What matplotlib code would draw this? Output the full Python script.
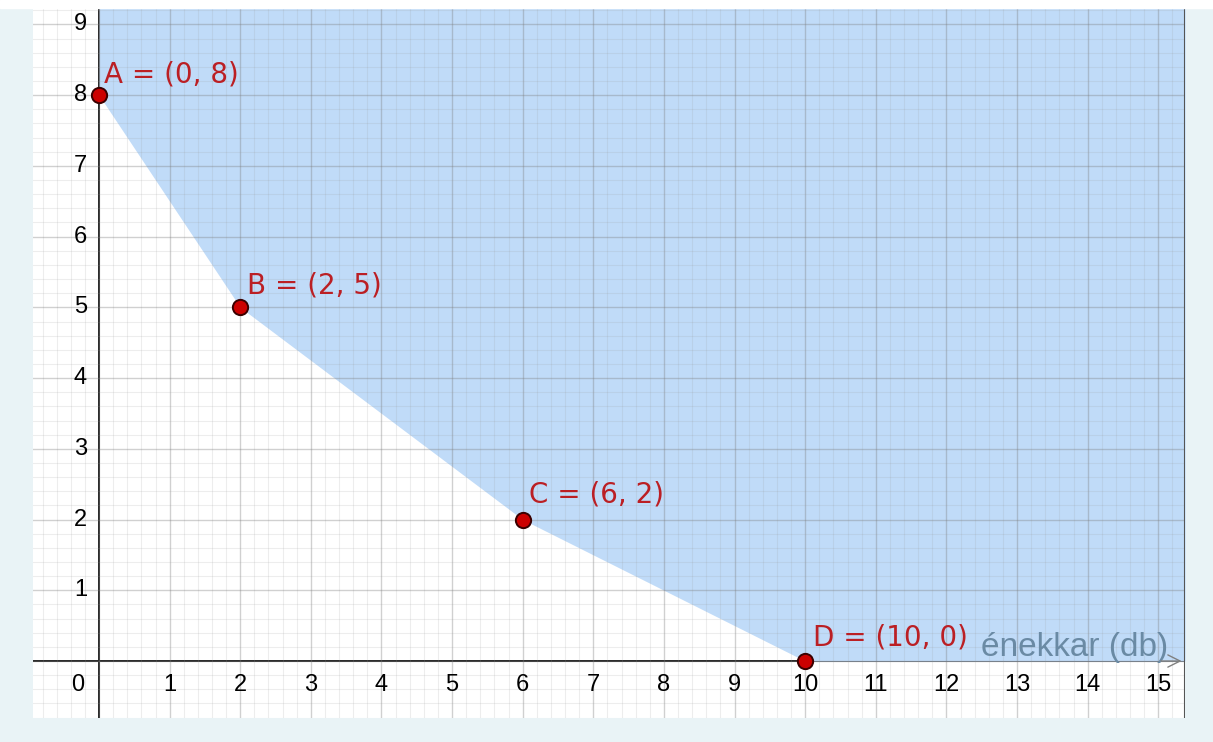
import numpy as np
import matplotlib.pyplot as plt
from matplotlib.patches import Rectangle

plt.rcParams['font.family'] = ['Liberation Sans', 'DejaVu Sans']

# Points of the boundary
names = ['A', 'B', 'C', 'D']
px = [0, 2, 6, 10]
py = [8, 5, 2, 0]

x_ticks = list(range(1, 16))
y_ticks = list(range(1, 10))
x_label = 'énekkar (db)'

# label offsets in pixels (dx, dy of the text baseline)
offsets = [(5, 13), (7, 14), (6, 17), (8, 16)]

xmin, xmax = -0.935, 15.38
ymin, ymax = -0.806, 9.23

fig = plt.figure(figsize=(12.13, 7.42), dpi=100, facecolor='#e9f3f6')
fig.patches.append(Rectangle((0, 0.989), 1, 0.011, transform=fig.transFigure,
                             color='white', zorder=0))
ax = fig.add_axes([0.0272, 0.0323, 0.9498, 0.9567])
ax.set_facecolor('white')
ax.set_xlim(xmin, xmax)
ax.set_ylim(ymin, ymax)

# grid
ax.set_xticks(np.arange(-0.8, 15.4, 0.2), minor=True)
ax.set_yticks(np.arange(-0.8, 9.3, 0.2), minor=True)
ax.set_xticks(range(0, 16))
ax.set_yticks(range(0, 10))
ax.grid(which='minor', color='#9a9a9a', alpha=0.17, lw=0.8, zorder=3)
ax.grid(which='major', color='#7a7a7a', alpha=0.35, lw=1.0, zorder=3)
ax.set_axisbelow(False)
ax.tick_params(which='both', length=0, labelbottom=False, labelleft=False)
for s in ['top', 'right', 'left', 'bottom']:
    ax.spines[s].set_visible(False)
ax.plot([xmax, xmax], [ymin, ymax], color='#555555', lw=1.5, zorder=6)

# axes
ax.axhline(0, color='#222222', lw=1.4, zorder=2)
ax.axvline(0, color='#222222', lw=1.4, zorder=2)

# feasible region
fx = px + [xmax]
fy = py + [0]
ax.fill_between(fx, fy, ymax, color='#c0dbf8', lw=0, zorder=2.5)

# tick labels
for t in x_ticks:
    ax.text(t, -0.34, str(t), ha='center', va='center', fontsize=17, color='#000000')
for t in y_ticks:
    ax.text(-0.17, t, str(t), ha='right', va='center', fontsize=17, color='#000000')
ax.text(-0.3, -0.34, '0', ha='center', va='center', fontsize=17, color='#000000')

# axis label + arrow
ax.text(15.14, 0.07, x_label, ha='right', va='baseline', fontsize=24, color='#6a8aa4', zorder=7)
ax.annotate('', xy=(15.37, 0), xytext=(15.0, 0),
            arrowprops=dict(arrowstyle='->', color='#808080', lw=1.0,
                            mutation_scale=22), zorder=7)

# points
ax.plot(px, py, 'o', ms=11, mfc='#cc0000', mec='#3a0000', mew=1.4, zorder=8, clip_on=False)
for n, x, y, (dx, dy) in zip(names, px, py, offsets):
    ax.annotate(f'{n} = ({x}, {y})', (x, y), xytext=(dx, dy), textcoords='offset pixels',
                ha='left', va='baseline', fontsize=20, family='DejaVu Sans',
                color='#bb1f24', zorder=9)

fig.savefig('out.png', dpi=100, facecolor=fig.get_facecolor())
